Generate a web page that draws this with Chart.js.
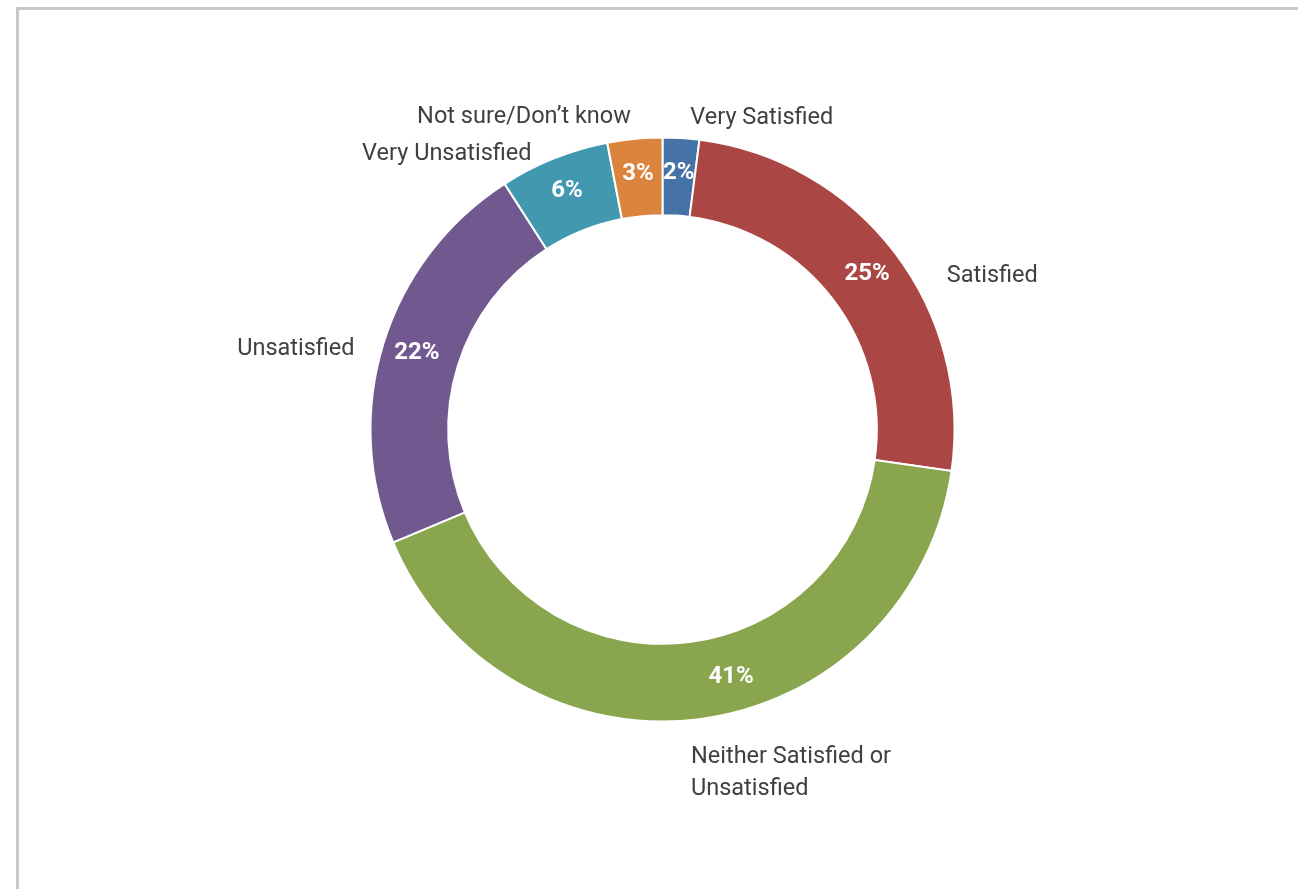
<!DOCTYPE html>
<html>
<head>
<meta charset="utf-8">
<script src="https://cdn.jsdelivr.net/npm/chart.js@4/dist/chart.umd.min.js"></script>
<style>
  html, body { margin: 0; padding: 0; background: #ffffff; }
  #wrap { position: relative; width: 1298px; height: 889px; overflow: hidden; }
  #frame { position: absolute; left: 16px; top: 7px; width: 1400px; height: 1000px;
           border-top: 3px solid #c8c8c8; border-left: 3px solid #c8c8c8; }
  canvas { position: absolute; left: 0; top: 0; }
</style>
</head>
<body>
<div id="wrap">
  <div id="frame"></div>
  <canvas id="chart" width="1298" height="889"></canvas>
</div>
<script>
// Satisfaction survey responses (percent of respondents)
const categories = [
  'Very Satisfied',
  'Satisfied',
  ['Neither Satisfied or', 'Unsatisfied'],
  'Unsatisfied',
  'Very Unsatisfied',
  'Not sure/Don\u2019t know'
];
const shares = [2, 25, 41, 22, 6, 3];
const sliceColors = ['#4572A7', '#AA4643', '#89A54E', '#71588F', '#4198AF', '#DB843D'];

// Small hand-tuned nudges for label placement (pixels)
const nameNudge = [[8, 0], [36, 36], [-11, 34], [-10, 12], [-15, 14], [-2, -2]];
const valueNudge = [[0, 0], [0, 0], [36, -8], [0, 0], [0, 0], [0, 0]];

const ringLabels = {
  id: 'ringLabels',
  afterDatasetsDraw(chart) {
    const ctx = chart.ctx;
    const meta = chart.getDatasetMeta(0);
    meta.data.forEach((arc, i) => {
      const p = arc.getProps(['x', 'y', 'startAngle', 'endAngle', 'innerRadius', 'outerRadius'], true);
      const mid = (p.startAngle + p.endAngle) / 2;
      const cos = Math.cos(mid), sin = Math.sin(mid);

      // value inside the ring
      const rv = (p.innerRadius + p.outerRadius) / 2 + 4;
      ctx.save();
      ctx.font = 'bold 24px Roboto';
      ctx.fillStyle = '#ffffff';
      ctx.textAlign = 'center';
      ctx.textBaseline = 'middle';
      ctx.fillText(shares[i] + '%', p.x + rv * cos + valueNudge[i][0], p.y + rv * sin + valueNudge[i][1]);
      ctx.restore();

      // category name outside the ring
      const rn = p.outerRadius + 20;
      const lines = Array.isArray(categories[i]) ? categories[i] : [categories[i]];
      const lx = p.x + rn * cos + nameNudge[i][0];
      const ly = p.y + rn * sin + nameNudge[i][1];
      const lh = 32;
      ctx.save();
      ctx.font = '23.5px Roboto';
      ctx.fillStyle = '#404040';
      ctx.textAlign = cos >= -0.05 ? 'left' : 'right';
      ctx.textBaseline = 'middle';
      lines.forEach((t, k) => {
        ctx.fillText(t, lx, ly + (k - (lines.length - 1) / 2) * lh);
      });
      ctx.restore();
    });
  }
};

new Chart(document.getElementById('chart'), {
  type: 'doughnut',
  data: {
    labels: categories,
    datasets: [{
      data: shares,
      backgroundColor: sliceColors,
      borderColor: '#ffffff',
      borderWidth: 2
    }]
  },
  options: {
    responsive: false,
    animation: false,
    cutout: '73.4%',
    layout: { padding: { left: 27, right: 0, top: 136.5, bottom: 166.5 } },
    plugins: { legend: { display: false }, tooltip: { enabled: false } }
  },
  plugins: [ringLabels]
});
</script>
</body>
</html>
